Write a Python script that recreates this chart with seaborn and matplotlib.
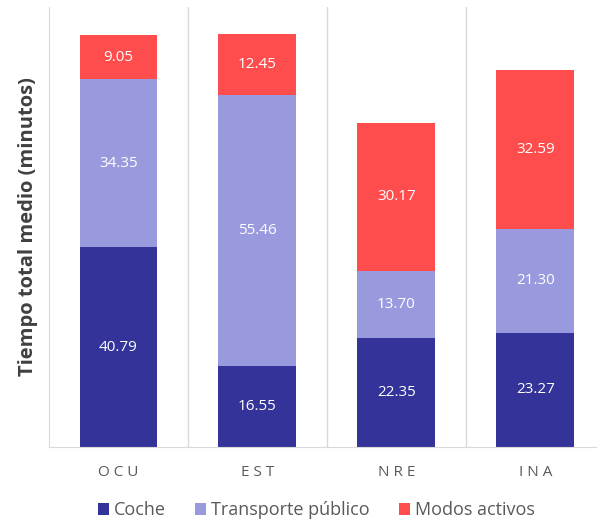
import seaborn as sns
import pandas as pd
import matplotlib.pyplot as plt

# data
grupos = ["OCU", "EST", "NRE", "INA"]
coche = [40.79, 16.55, 22.35, 23.27]
transporte = [34.35, 55.46, 13.70, 21.30]
activos = [9.05, 12.45, 30.17, 32.59]

colors = {"Coche": "#333399", "Transporte público": "#9999dd", "Modos activos": "#ff4d4d"}

sns.set_style("white")
plt.rcParams['font.family'] = ['Open Sans', 'DejaVu Sans']

df = pd.DataFrame({"grupo": grupos, "Coche": coche,
                   "Transporte público": transporte, "Modos activos": activos})
df["nivel2"] = df["Coche"] + df["Transporte público"]
df["nivel3"] = df["nivel2"] + df["Modos activos"]

fig = plt.figure(figsize=(5.97, 5.25), dpi=100)
ax = fig.add_axes([0.082, 0.149, 0.931, 0.838])

# stacked bars drawn as cumulative overlays
for col, lab in [("nivel3", "Modos activos"), ("nivel2", "Transporte público"),
                 ("Coche", "Coche")]:
    sns.barplot(data=df, x="grupo", y=col, color=colors[lab], width=0.56,
                saturation=1, linewidth=0, ax=ax, label=lab)

# segment labels
for i, row in df.iterrows():
    for lo, hi, v in [(0, row["Coche"], row["Coche"]),
                      (row["Coche"], row["nivel2"], row["Transporte público"]),
                      (row["nivel2"], row["nivel3"], row["Modos activos"])]:
        ax.text(i, (lo + hi) / 2, f"{v:.2f}", ha="center", va="center",
                color="white", fontsize=11)

# separators
for x in [0.5, 1.5, 2.5, 3.5]:
    ax.axvline(x, color="#d9d9d9", lw=1, zorder=0)

ax.set_xlim(-0.5, 3.5)
ax.set_ylim(0, 90)
ax.set_yticks([])
ax.set_xticks(range(4))
ax.set_xticklabels([" ".join(g) for g in grupos], color="#595959", fontsize=11)
ax.tick_params(axis="x", length=0, pad=13)
ax.set_xlabel("")
ax.set_ylabel("Tiempo total medio (minutos)", fontsize=14.5, fontweight="bold",
              color="#404040", labelpad=8)
for s in ["top", "right"]:
    ax.spines[s].set_visible(False)
for s in ["left", "bottom"]:
    ax.spines[s].set_color("#d9d9d9")

handles, labels = ax.get_legend_handles_labels()
if ax.get_legend() is not None:
    ax.get_legend().remove()
order = [labels.index(l) for l in ["Coche", "Transporte público", "Modos activos"]]
fig.legend([handles[k] for k in order], [labels[k] for k in order],
           loc="center", bbox_to_anchor=(0.53, 0.028),
           ncol=3, frameon=False, fontsize=13, handlelength=0.6, handleheight=0.6,
           handletextpad=0.3, columnspacing=1.6, labelcolor="#595959")

plt.savefig("out.png", dpi=100)
